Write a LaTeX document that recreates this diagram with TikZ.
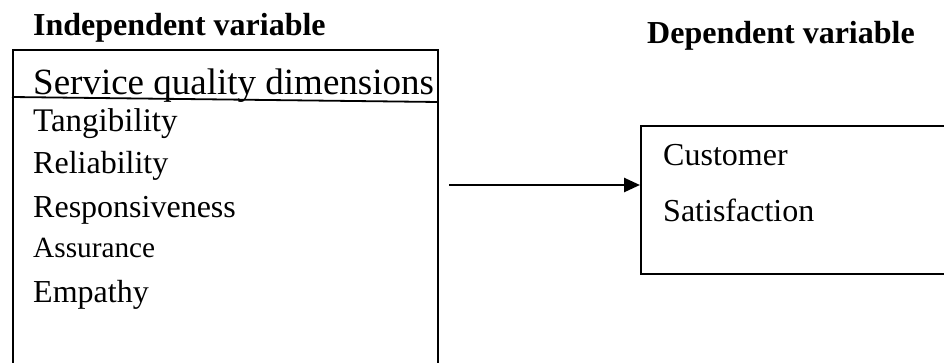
\documentclass[tikz,border=0pt]{standalone}
\usepackage{fontspec}
\setmainfont{Liberation Serif}
\usetikzlibrary{arrows.meta}
\tikzset{
  box/.style={draw, line width=1.8pt, inner sep=0pt},
  lbl/.style={anchor=base west, inner sep=0pt, font=\fontsize{32}{38}\selectfont},
  head/.style={anchor=base west, inner sep=0pt, font=\fontsize{32}{38}\selectfont\bfseries},
  link/.style={line width=2.6pt, -{Triangle[length=16pt, width=14pt]}}
}
\begin{document}
\begin{tikzpicture}[x=1pt, y=-1pt]
\useasboundingbox (0,0) rectangle (944,362);
\clip (0,0) rectangle (944,362);
\node[box, minimum width=425pt, minimum height=340pt, anchor=north west] (ind) at (12,49) {};
\node[box, minimum width=400pt, minimum height=148pt, anchor=north west] (dep) at (640,125) {};
\draw[line width=1.8pt] ([yshift=-48pt]ind.north west) -- ([yshift=-53pt]ind.north east);
\node[head] (ih) at (33,35) {Independent variable};
\node[head] (dh) at (647,43) {Dependent variable};
\node[lbl, font=\fontsize{37}{44}\selectfont] (sq) at (33,94) {Service quality dimensions};
\node[lbl, font=\fontsize{33}{40}\selectfont] (t1) at (33,131) {Tangibility};
\node[lbl] (t2) at (33,173) {Reliability};
\node[lbl] (t3) at (33,217) {Responsiveness};
\node[lbl, font=\fontsize{29.3}{35}\selectfont] (t4) at (33,257) {Assurance};
\node[lbl] (t5) at (33,302) {Empathy};
\node[lbl] (c1) at (663,165) {Customer};
\node[lbl] (c2) at (663,221) {Satisfaction};
\coordinate (s) at (449,185);
\draw[link] (s) -- (dep.west |- s);
\end{tikzpicture}
\end{document}
